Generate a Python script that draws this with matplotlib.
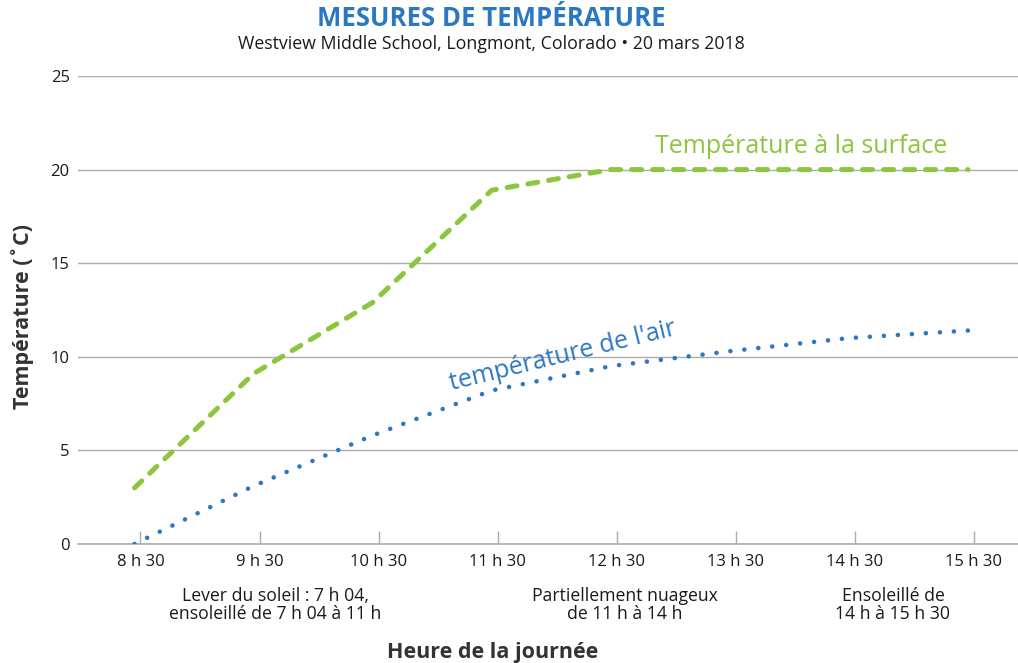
import matplotlib
matplotlib.use("Agg")
import matplotlib.pyplot as plt

plt.rcParams['font.family'] = ['Open Sans', 'DejaVu Sans']

# données
heures = ['8 h 30', '9 h 30', '10 h 30', '11 h 30', '12 h 30', '13 h 30', '14 h 30', '15 h 30']
temp_surface = [3.0, 9.1, 12.9, 18.9, 20.0, 20.0, 20.0, 20.0]
temp_air = [0.0, 3.1, 5.8, 8.2, 9.5, 10.3, 11.0, 11.4]
y_ticks = [0, 5, 10, 15, 20, 25]
notes = [
    (1.18, "Lever du soleil : 7 h 04,\nensoleillé de 7 h 04 à 11 h"),
    (4.12, "Partiellement nuageux\nde 11 h à 14 h"),
    (6.37, "Ensoleillé de\n14 h à 15 h 30"),
]

VERT = '#8CC63F'
BLEU = '#2B78C2'
GRIS = '#ADADAD'
TEXTE = '#1A1A1A'

fig = plt.figure(figsize=(10.18, 6.63), dpi=100)
ax = fig.add_axes([0.0766, 0.1795, 0.9234, 0.7059])

x = list(range(len(heures)))

ax.plot(x, temp_surface, color=VERT, linewidth=3.6, dashes=(2.0, 2.2),
        dash_capstyle='round', solid_joinstyle='round', zorder=3)
ax.plot(x, temp_air, color=BLEU, linewidth=3.3, dashes=(0.01, 3.05),
        dash_capstyle='round', zorder=3)

ax.set_xlim(-0.475, 7.42)
ax.set_ylim(0, 25)
ax.set_yticks(y_ticks)
# les repères sont légèrement décalés vers la droite des points
ax.set_xticks([i + 0.05 for i in x])
ax.set_xticklabels(heures)

for s in ['top', 'right', 'left']:
    ax.spines[s].set_visible(False)
ax.spines['bottom'].set_color(GRIS)
ax.spines['bottom'].set_linewidth(1.2)

ax.yaxis.grid(True, color=GRIS, linewidth=1.0)
ax.set_axisbelow(True)
ax.tick_params(axis='y', length=0, pad=6, labelsize=12, labelcolor=TEXTE)
ax.tick_params(axis='x', direction='in', length=9.5, width=1.0, color=GRIS,
               pad=7.5, labelsize=12, labelcolor=TEXTE)

# étiquettes des séries
ax.text(5.6, 21.25, "Température à la surface", color=VERT, fontsize=18,
        ha='center', va='center')
ax.text(3.6, 10.05, "température de l'air", color=BLEU, fontsize=18,
        ha='center', va='center', rotation=13.8)

# notes sous l'axe
for xn, txt in notes:
    ax.text(xn, -2.3, txt, ha='center', va='top', fontsize=12.7, color=TEXTE,
            linespacing=0.98, clip_on=False)

fig.text(0.483, 0.972, "MESURES DE TEMPÉRATURE", ha='center', va='center',
         fontsize=18.5, fontweight='bold', color=BLEU)
fig.text(0.483, 0.933, "Westview Middle School, Longmont, Colorado • 20 mars 2018",
         ha='center', va='center', fontsize=12.8, color=TEXTE)

fig.text(0.484, 0.0, "Heure de la journée", ha='center', va='bottom',
         fontsize=15.5, fontweight='bold', color='#333333')
fig.text(0.022, 0.523, "Température (˚C)", ha='center', va='center', rotation=90,
         fontsize=15.5, fontweight='bold', color='#333333')

fig.savefig("out.png", dpi=100)
